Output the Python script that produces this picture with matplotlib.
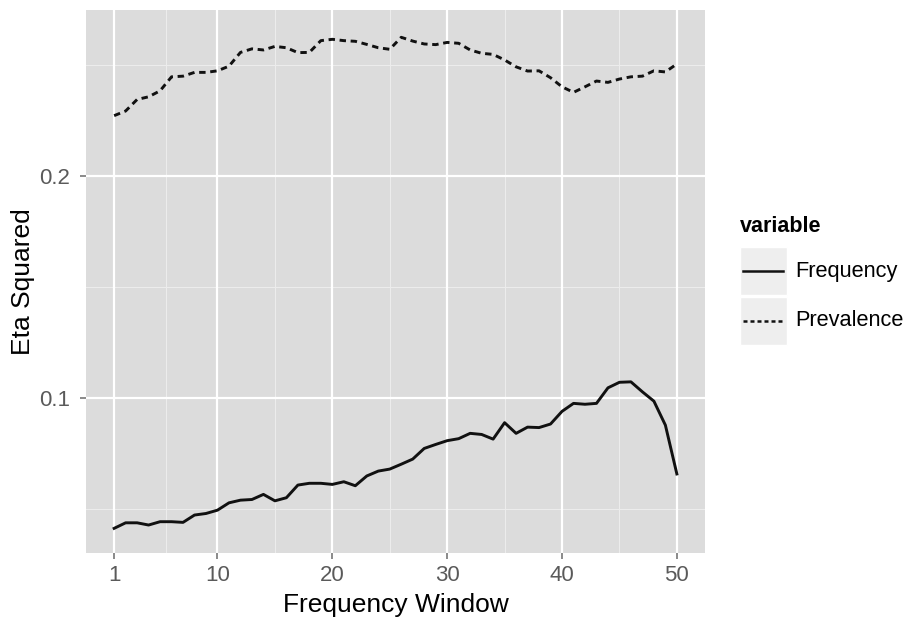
import matplotlib.pyplot as plt
from matplotlib.patches import Rectangle
from matplotlib.lines import Line2D

plt.rcParams['font.family'] = ['Liberation Sans', 'DejaVu Sans']

window = list(range(1, 51))
frequency = [0.0413, 0.0438, 0.0438, 0.0428, 0.0443, 0.0443, 0.0440, 0.0473, 0.0480, 0.0495,
             0.0528, 0.0540, 0.0543, 0.0566, 0.0537, 0.0551, 0.0608, 0.0616, 0.0616, 0.0611,
             0.0623, 0.0605, 0.0649, 0.0671, 0.0680, 0.0702, 0.0725, 0.0773, 0.0791, 0.0808,
             0.0817, 0.0841, 0.0836, 0.0815, 0.0889, 0.0841, 0.0869, 0.0867, 0.0883, 0.0940,
             0.0976, 0.0972, 0.0976, 0.1046, 0.1071, 0.1073, 0.1028, 0.0986, 0.0878, 0.0658]
prevalence = [0.2272, 0.2293, 0.2345, 0.2357, 0.2384, 0.2447, 0.2450, 0.2467, 0.2467, 0.2474,
              0.2495, 0.2557, 0.2573, 0.2568, 0.2584, 0.2578, 0.2556, 0.2557, 0.2610, 0.2616,
              0.2610, 0.2607, 0.2593, 0.2578, 0.2571, 0.2625, 0.2608, 0.2595, 0.2592, 0.2602,
              0.2598, 0.2568, 0.2553, 0.2548, 0.2523, 0.2492, 0.2473, 0.2474, 0.2443, 0.2402,
              0.2377, 0.2402, 0.2428, 0.2422, 0.2437, 0.2447, 0.2450, 0.2474, 0.2469, 0.2505]
series_names = ['Frequency', 'Prevalence']
x_ticks = [1, 10, 20, 30, 40, 50]
y_ticks = [0.1, 0.2]

W, H = 905, 617
fig = plt.figure(figsize=(W / 100, H / 100), dpi=100)
ax = fig.add_axes([86 / W, 1 - 553 / H, 619 / W, 543 / H])
ax.set_facecolor('#dcdcdc')

# ggplot-like grid: white major lines, fainter minor lines in between
for xm in [5.5, 15, 25, 35, 45]:
    ax.axvline(xm, color='#ececec', lw=0.8, zorder=0)
for ym in [0.05, 0.15, 0.25]:
    ax.axhline(ym, color='#ececec', lw=0.8, zorder=0)
ax.grid(True, color='white', lw=1.6, zorder=0)
ax.set_axisbelow(True)

ax.plot(window, frequency, color='#111111', lw=2.1, solid_joinstyle='round')
ax.plot(window, prevalence, color='#111111', lw=2.1, dashes=(2.2, 1.6))

ax.set_xlim(-1.45, 52.45)
ax.set_ylim(0.0302, 0.2748)
ax.set_xticks(x_ticks)
ax.set_yticks(y_ticks)
ax.set_yticklabels(['0.1', '0.2'])
for s in ax.spines.values():
    s.set_visible(False)
ax.tick_params(colors='#777777', labelcolor='#5a5a5a', labelsize=16, length=4.5, width=1.2)
ax.tick_params(axis='x', pad=4)
ax.tick_params(axis='y', pad=7)
ax.set_xlabel('Frequency Window', fontsize=19, labelpad=5)
ax.set_ylabel('Eta Squared', fontsize=19, labelpad=3)

# legend drawn in pixel coordinates to the right of the panel
lg = fig.add_axes([0, 0, 1, 1], zorder=-1)
lg.set_xlim(0, W)
lg.set_ylim(H, 0)
lg.axis('off')
lg.text(740, 226, 'variable', fontsize=15.5, fontweight='bold', va='center', ha='left')
key_styles = [dict(), dict(dashes=(1.6, 1.2))]
for i, name in enumerate(series_names):
    top = 247 + i * 50
    lg.add_patch(Rectangle((740, top), 47, 48, facecolor='#eeeeee', edgecolor='white', lw=1))
    lg.add_line(Line2D([743, 783], [top + 23.5, top + 23.5], color='#111111', lw=1.8, **key_styles[i]))
    lg.text(795, top + 24, name, fontsize=15.7, va='center', ha='left')

fig.savefig('out.png', dpi=100)
